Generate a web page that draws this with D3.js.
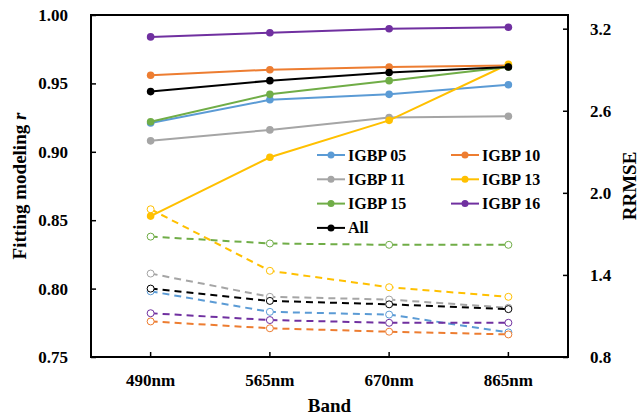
<!DOCTYPE html>
<html>
<head>
<meta charset="utf-8">
<script src="https://cdn.jsdelivr.net/npm/d3@7"></script>
<style>
  body { margin: 0; background: #fff; }
</style>
</head>
<body>
<div id="chart-area"></div>
<script>
const FONT = "Liberation Serif";

// bands on the x axis
const bands = ["490nm", "565nm", "670nm", "865nm"];
const groups = ["IGBP 05", "IGBP 10", "IGBP 11", "IGBP 13", "IGBP 15", "IGBP 16", "All"];
const colors = ["#5B9BD5", "#ED7D31", "#A5A5A5", "#FFC000", "#70AD47", "#7030A0", "#000000"];

// fitting modeling r (left axis, solid)
const r05 = [0.921, 0.938, 0.942, 0.949];
const r10 = [0.956, 0.960, 0.962, 0.963];
const r11 = [0.908, 0.916, 0.925, 0.926];
const r13 = [0.853, 0.896, 0.923, 0.964];
const r15 = [0.922, 0.942, 0.952, 0.962];
const r16 = [0.984, 0.987, 0.990, 0.991];
const rAll = [0.944, 0.952, 0.958, 0.962];

// RRMSE (right axis, dashed)
const e05 = [1.28, 1.13, 1.11, 0.98];
const e10 = [1.06, 1.01, 0.985, 0.965];
const e11 = [1.41, 1.24, 1.22, 1.16];
const e13 = [1.88, 1.43, 1.31, 1.24];
const e15 = [1.68, 1.63, 1.62, 1.62];
const e16 = [1.12, 1.07, 1.05, 1.05];
const eAll = [1.30, 1.21, 1.185, 1.15];

const rTicks = [0.75, 0.80, 0.85, 0.90, 0.95, 1.00];
const eTicks = [0.8, 1.4, 2.0, 2.6, 3.2];

const rSeries = [r05, r10, r11, r13, r15, r16, rAll];
const eSeries = [e05, e10, e11, e13, e15, e16, eAll];

const margin = { left: 91, right: 71, top: 15, bottom: 61 };
const W = 639, H = 418;
const width = W - margin.left - margin.right, height = H - margin.top - margin.bottom;

const svg = d3.select("#chart-area").append("svg")
  .attr("width", W).attr("height", H)
  .attr("font-family", FONT).attr("font-weight", "bold");
const g = svg.append("g")
  .attr("transform", "translate(" + margin.left + "," + margin.top + ")");

const x = d3.scaleBand().domain(bands).range([0, width]);
const cx = d => x(d) + x.bandwidth() / 2;
const yL = d3.scaleLinear().domain([0.75, 1.0]).range([height, 0]);
const yR = d3.scaleLinear().domain([0.8, 3.3]).range([height, 0]);

// axes (ticks point inward)
const leftAxis = g.append("g")
  .call(d3.axisLeft(yL).tickValues(rTicks).tickSize(-5).tickPadding(23).tickFormat(d3.format(".2f")));
const rightAxis = g.append("g")
  .attr("transform", "translate(" + width + ",0)")
  .call(d3.axisRight(yR).tickValues(eTicks).tickSize(-5).tickPadding(22).tickFormat(d3.format(".1f")));
const bottomAxis = g.append("g")
  .attr("transform", "translate(0," + height + ")")
  .call(d3.axisBottom(x).tickSize(-5).tickPadding(22));

[leftAxis, rightAxis, bottomAxis].forEach(a => {
  a.attr("font-family", FONT);
  a.select(".domain").remove();
  a.selectAll(".tick line").attr("stroke", "#000").attr("stroke-width", 1.5);
  a.selectAll("text").attr("font-size", "17px").attr("font-family", FONT)
    .attr("font-weight", "bold").attr("fill", "#000");
});
bottomAxis.selectAll("text").attr("dy", "0.4em");

// plot frame
g.append("rect").attr("width", width).attr("height", height)
  .attr("fill", "none").attr("stroke", "#000").attr("stroke-width", 2);

// dashed RRMSE lines
const lineR = d3.line().x((d, i) => cx(bands[i])).y(d => yR(d));
const lineL = d3.line().x((d, i) => cx(bands[i])).y(d => yL(d));

eSeries.forEach((s, k) => {
  g.append("path").attr("d", lineR(s)).attr("fill", "none")
    .attr("stroke", colors[k]).attr("stroke-width", 2).attr("stroke-dasharray", "7,5");
  g.selectAll(null).data(s).enter().append("circle")
    .attr("cx", (d, i) => cx(bands[i])).attr("cy", d => yR(d)).attr("r", 3.5)
    .attr("fill", "#fff").attr("stroke", colors[k]).attr("stroke-width", 1);
});

// solid r lines
rSeries.forEach((s, k) => {
  g.append("path").attr("d", lineL(s)).attr("fill", "none")
    .attr("stroke", colors[k]).attr("stroke-width", 2);
  g.selectAll(null).data(s).enter().append("circle")
    .attr("cx", (d, i) => cx(bands[i])).attr("cy", d => yL(d)).attr("r", 3.8)
    .attr("fill", colors[k]);
});

// legend
const legend = svg.append("g");
groups.forEach((name, k) => {
  const col = k % 2, row = Math.floor(k / 2);
  const lx = col ? 451 : 317, ly = 155 + row * 24.3;
  legend.append("line").attr("x1", lx).attr("x2", lx + 28).attr("y1", ly).attr("y2", ly)
    .attr("stroke", colors[k]).attr("stroke-width", 2);
  legend.append("circle").attr("cx", lx + 14).attr("cy", ly).attr("r", 3.5).attr("fill", colors[k]);
  legend.append("text").attr("x", lx + 31).attr("y", ly + 5.5)
    .attr("font-family", FONT).attr("font-size", "16px").text(name);
});

// axis titles
const yt = svg.append("text")
  .attr("transform", "translate(26," + (margin.top + height / 2) + ") rotate(-90)")
  .attr("text-anchor", "middle").attr("font-family", FONT).attr("font-size", "19px");
yt.append("tspan").text("Fitting modeling ");
yt.append("tspan").attr("font-style", "italic").text("r");

svg.append("text")
  .attr("x", margin.left + width / 2).attr("y", 412)
  .attr("text-anchor", "middle").attr("font-family", FONT).attr("font-size", "19px").text("Band");

svg.append("text")
  .attr("transform", "translate(636," + (margin.top + height / 2) + ") rotate(-90)")
  .attr("text-anchor", "middle").attr("font-family", FONT).attr("font-size", "19px").text("RRMSE");
</script>
</body>
</html>
